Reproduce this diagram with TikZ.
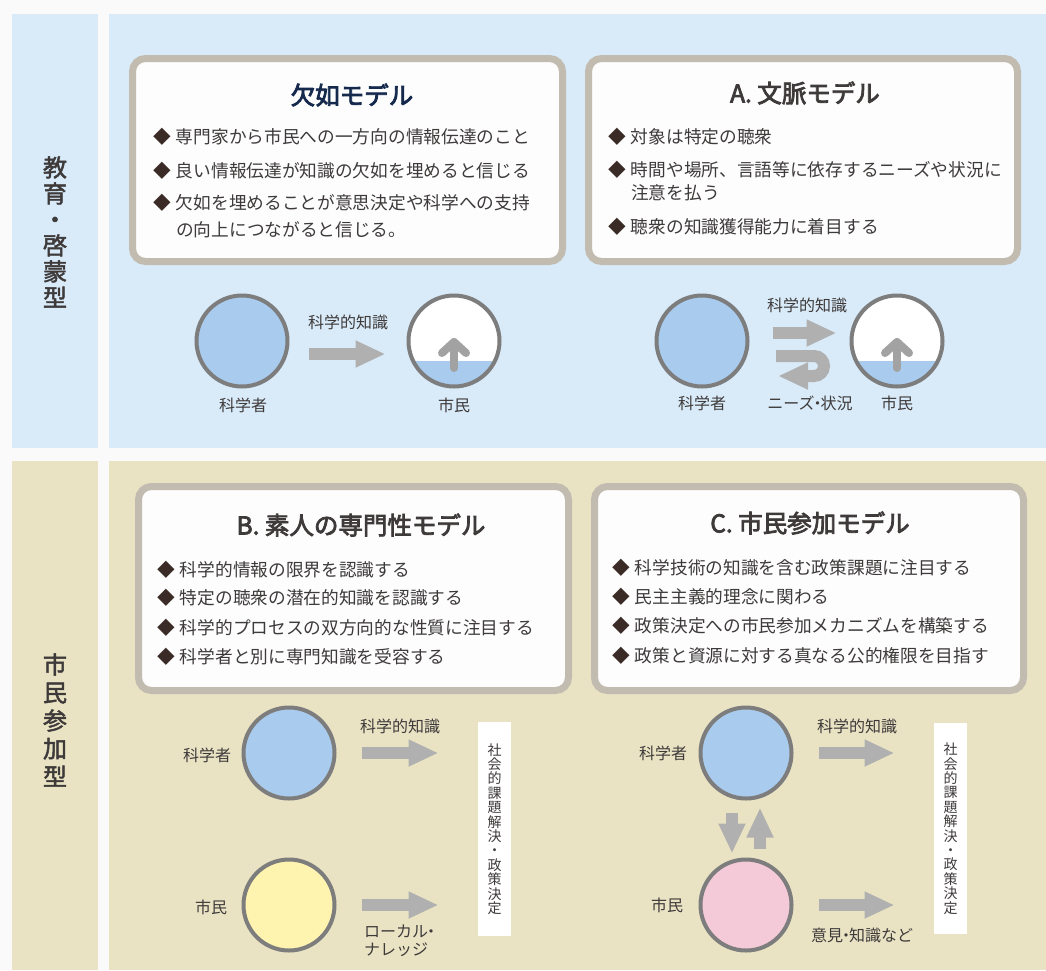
\documentclass[tikz,border=0pt]{standalone}
\usepackage{fontspec}
\setmainfont{Noto Sans CJK JP}
\newfontfamily\headfont{Noto Sans CJK JP}[BoldFont={Noto Sans CJK JP},BoldFeatures={FakeBold=3.2}]
\newfontfamily\bandfont{Noto Sans CJK JP}[BoldFont={Noto Sans CJK JP},BoldFeatures={FakeBold=2}]
\usetikzlibrary{calc}
\usetikzlibrary{arrows.meta}
\definecolor{pagebg}{HTML}{FAFAFA}
\definecolor{eduband}{HTML}{D9EBF9}
\definecolor{partband}{HTML}{E9E3C4}
\definecolor{boxline}{HTML}{C2BBB0}
\definecolor{boxfill}{HTML}{FDFDFD}
\definecolor{ringline}{HTML}{7D7D7D}
\definecolor{sciblue}{HTML}{A8CBEE}
\definecolor{citpink}{HTML}{F5CAD8}
\definecolor{cityellow}{HTML}{FFF3B0}
\definecolor{arrowgray}{HTML}{B0B0B0}
\definecolor{textgray}{HTML}{3E3A3A}
\definecolor{titlenavy}{HTML}{15294D}
\definecolor{bulletbrown}{HTML}{3A2B26}
\tikzstyle{modelbox}=[draw=boxline,line width=7pt,fill=boxfill,rounded corners=13pt]
\tikzstyle{modeltitle}=[inner sep=0pt,text=textgray,font=\headfont\bfseries\fontsize{24.5}{28}\selectfont]
\tikzstyle{bulletline}=[anchor=west,inner sep=0pt,text=textgray,font=\fontsize{17.7}{20}\selectfont]
\tikzstyle{person}=[circle,draw=ringline,line width=4pt,minimum size=91pt,inner sep=0pt]
\tikzstyle{citizen}=[person,fill=white,path picture={\fill[sciblue] ([yshift=-20pt]path picture bounding box.west) rectangle (path picture bounding box.south east);}]
\tikzstyle{difftag}=[inner sep=0pt,text=textgray,font=\fontsize{16}{18}\selectfont]
\tikzstyle{bandlabel}=[inner sep=0pt,align=center,text=textgray,font=\bandfont\bfseries\fontsize{24}{26}\selectfont]
\tikzstyle{goalbox}=[fill=white,minimum width=33pt,inner sep=0pt,align=center,text=textgray,font=\fontsize{14}{14.4}\selectfont]
\tikzstyle{fatarrow}=[draw=arrowgray,line width=12pt,-{Triangle[width=25pt,length=30pt]}]
\tikzstyle{risearrow}=[draw=arrowgray!92!black,line width=8pt,line cap=round,line join=round]
\newcommand{\bul}{\textcolor{bulletbrown}{◆}\hspace{5pt}}
\newcommand{\tightdot}{\hspace{-5pt}・\hspace{-5pt}}
\begin{document}
\begin{tikzpicture}[x=1pt,y=-1pt]
\useasboundingbox (0,0) rectangle (1046,970);
\fill[pagebg] (0,0) rectangle (1046,970);
% bands
\fill[eduband] (12,14) rectangle (98,448);
\fill[eduband] (109,14) rectangle (1046,448);
\fill[partband] (12,461) rectangle (98,970);
\fill[partband] (109,461) rectangle (1046,970);
\node[bandlabel] (edu) at (55,232) {教\\育\\・\\啓\\蒙\\型};
\node[bandlabel,font=\bandfont\bfseries\fontsize{24}{28}\selectfont] (part) at (55,720) {市\\民\\参\\加\\型};

% deficit model
\node[modelbox,minimum width=430pt,minimum height=203pt] (deficit) at (347.5,160) {};
\node[modeltitle,text=titlenavy] (deficit-t) at (352,95) {欠如モデル};
\node[bulletline] (deficit-1) at (153,137) {\bul 専門家から市民への一方向の情報伝達のこと};
\node[bulletline] (deficit-2) at (153,171) {\bul 良い情報伝達が知識の欠如を埋めると信じる};
\node[bulletline] (deficit-3) at (153,203) {\bul 欠如を埋めることが意思決定や科学への支持};
\node[bulletline] (deficit-3b) at (176,230) {の向上につながると信じる。};
\node[person,fill=sciblue] (sci1) at (242,341) {};
\node[citizen] (cit1) at (454,341) {};
\draw[risearrow] ([yshift=-27pt]cit1.center) -- ([yshift=-1pt]cit1.center);
\draw[risearrow] ([shift={(-12pt,-12pt)}]cit1.center) -- ([yshift=-1pt]cit1.center) -- ([shift={(12pt,-12pt)}]cit1.center);
\draw[fatarrow] ([shift={(19pt,-13pt)}]sci1.east) -- ([shift={(-21pt,-13pt)}]cit1.west);
\node[difftag] (know1) at (348,322) {科学的知識};
\node[difftag] (sci1-l) at (243,405) {科学者};
\node[difftag] (cit1-l) at (454,405) {市民};

% context model
\node[modelbox,minimum width=429pt,minimum height=203pt] (context) at (803,160) {};
\node[modeltitle] (context-t) at (805,93) {A. 文脈モデル};
\node[bulletline] (context-1) at (608,137) {\bul 対象は特定の聴衆};
\node[bulletline] (context-2) at (608,170) {\bul 時間や場所、言語等に依存するニーズや状況に};
\node[bulletline] (context-2b) at (631,193) {注意を払う};
\node[bulletline] (context-3) at (608,227) {\bul 聴衆の知識獲得能力に着目する};
\node[person,fill=sciblue] (sci2) at (702,341) {};
\node[citizen] (cit2) at (897,341) {};
\draw[risearrow] ([yshift=-27pt]cit2.center) -- ([yshift=-1pt]cit2.center);
\draw[risearrow] ([shift={(-12pt,-12pt)}]cit2.center) -- ([yshift=-1pt]cit2.center) -- ([shift={(12pt,-12pt)}]cit2.center);
\draw[fatarrow] ([shift={(23pt,8pt)}]sci2.east) -- ([shift={(-13pt,8pt)}]cit2.west);
\coordinate (back-a) at (776,356);
\coordinate (back-b) at (824,356);
\coordinate (back-c) at (824,376);
\coordinate (back-d) at (778,376);
\draw[fatarrow,rounded corners=10pt] (back-a) -- (back-b) -- (back-c) -- (back-d);
\node[difftag] (know2) at (807,305) {科学的知識};
\node[difftag] (needs2) at (810,403) {ニーズ\tightdot 状況};
\node[difftag] (sci2-l) at (702,403) {科学者};
\node[difftag] (cit2-l) at (897,403) {市民};

% lay expertise model
\node[modelbox,minimum width=430pt,minimum height=204pt] (lay) at (353.5,588.5) {};
\node[modeltitle] (lay-t) at (361,525) {B. 素人の専門性モデル};
\node[bulletline] (lay-1) at (157,570) {\bul 科学的情報の限界を認識する};
\node[bulletline] (lay-2) at (157,598) {\bul 特定の聴衆の潜在的知識を認識する};
\node[bulletline] (lay-3) at (157,628) {\bul 科学的プロセスの双方向的な性質に注目する};
\node[bulletline] (lay-4) at (157,657) {\bul 科学者と別に専門知識を受容する};
\node[person,fill=sciblue] (sci3) at (289,753) {};
\node[person,fill=cityellow] (cit3) at (289,905) {};
\node[goalbox,minimum height=214pt] (goal3) at (494.5,829) {社\\会\\的\\課\\題\\解\\決\\・\\政\\策\\決\\定};
\draw[fatarrow] ([xshift=25pt]sci3.east) -- ++(77pt,0pt);
\draw[fatarrow] ([xshift=25pt]cit3.east) -- ++(77pt,0pt);
\node[difftag] (know3) at (400,726) {科学的知識};
\node[difftag,anchor=west,align=left] (local3) at (364,941) {ローカル\hspace{-5pt}・\\ナレッジ};
\node[difftag] (sci3-l) at (207,755) {科学者};
\node[difftag] (cit3-l) at (211,907) {市民};

% participation model
\node[modelbox,minimum width=429pt,minimum height=204pt] (part) at (809,588.5) {};
\node[modeltitle] (part-t) at (810,523) {C. 市民参加モデル};
\node[bulletline] (part-1) at (612,568) {\bul 科学技術の知識を含む政策課題に注目する};
\node[bulletline] (part-2) at (612,597) {\bul 民主主義的理念に関わる};
\node[bulletline] (part-3) at (612,626) {\bul 政策決定への市民参加メカニズムを構築する};
\node[bulletline] (part-4) at (612,656) {\bul 政策と資源に対する真なる公的権限を目指す};
\node[person,fill=sciblue] (sci4) at (746,753) {};
\node[person,fill=citpink] (cit4) at (746,905) {};
\node[goalbox,minimum height=211pt] (goal4) at (950.5,828.5) {社\\会\\的\\課\\題\\解\\決\\・\\政\\策\\決\\定};
\draw[fatarrow] ([xshift=25pt]sci4.east) -- ++(76pt,0pt);
\draw[fatarrow] ([xshift=25pt]cit4.east) -- ++(76pt,0pt);
\draw[fatarrow] ([shift={(-14pt,-12pt)}]sci4.south) -- ([shift={(-14pt,4pt)}]cit4.north);
\draw[fatarrow] ([shift={(14pt,9pt)}]cit4.north) -- ([shift={(14pt,-7pt)}]sci4.south);
\node[difftag] (know4) at (857,726) {科学的知識};
\node[difftag] (opin4) at (862,935) {意見\tightdot 知識など};
\node[difftag] (sci4-l) at (663,753) {科学者};
\node[difftag] (cit4-l) at (667,905) {市民};
\end{tikzpicture}
\end{document}
